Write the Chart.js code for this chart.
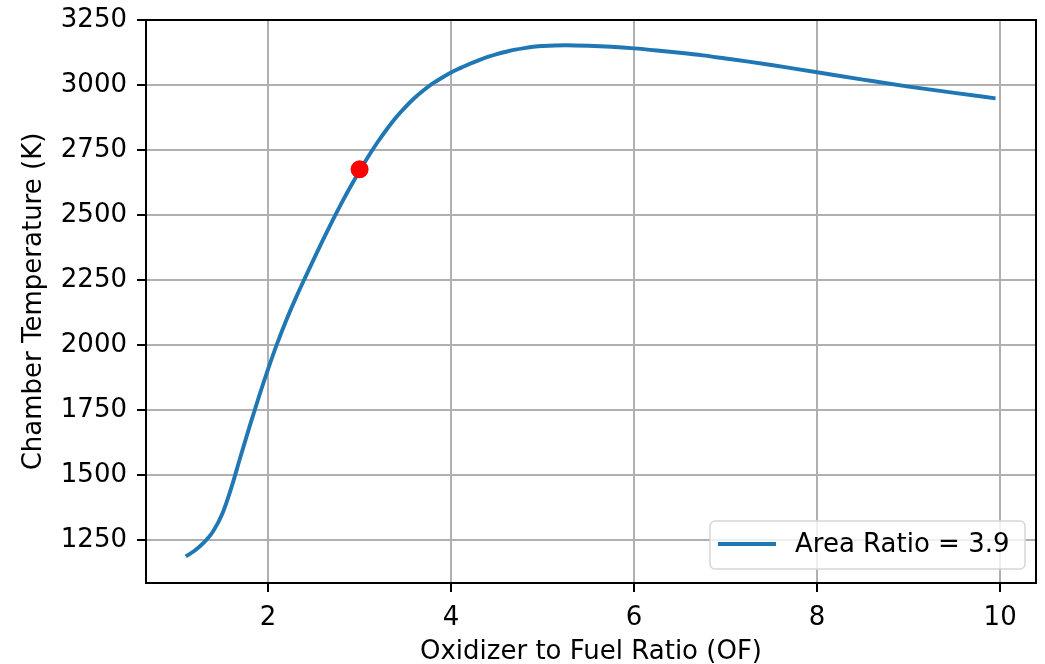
<!DOCTYPE html>
<html>
<head>
<meta charset="utf-8">
<script src="https://cdn.jsdelivr.net/npm/chart.js@4"></script>
<style>
  html, body { margin: 0; padding: 0; background: #fff; }
  #wrap { width: 1045px; height: 664px; position: relative; }
</style>
</head>
<body>
<div id="wrap"><canvas id="c" width="1045" height="664"></canvas></div>
<script>
// ---- data ----
const ofRatio = [1.1,1.2,1.3,1.4,1.5,1.6,1.7,1.8,1.9,2.0,2.1,2.2,2.3,2.4,2.5,2.6,2.7,2.8,2.9,3.0,3.1,3.2,3.3,3.4,3.5,3.6,3.7,3.8,3.9,4.0,4.1,4.2,4.3,4.4,4.5,4.6,4.7,4.8,4.9,5.0,5.25,5.5,5.75,6.0,6.25,6.5,6.75,7.0,7.25,7.5,7.75,8.0,8.5,9.0,9.5,9.95];
const chamberTemp = [1188,1211,1242,1285,1352,1454,1573,1690,1802,1908,2007,2097,2179,2256,2331,2405,2476,2544,2609,2670,2728,2782,2831,2876,2915,2950,2980,3006,3028,3048,3065,3081,3095,3108,3119,3128,3136,3142,3147,3150,3153,3151,3147,3141,3133,3124,3114,3102,3090,3077,3063,3049,3021,2994,2970,2949];
const markerOF = [3.0];
const markerTemp = [2676];
const xTicks = [2, 4, 6, 8, 10];
const yTicks = [1250, 1500, 1750, 2000, 2250, 2500, 2750, 3000, 3250];
const seriesLabel = 'Area Ratio = 3.9';
const xTitle = 'Oxidizer to Fuel Ratio (OF)';
const yTitle = 'Chamber Temperature (K)';

const FONT = 'DejaVu Sans';
const FS = 26;

const curvePts = ofRatio.map((x, i) => ({ x: x, y: chamberTemp[i] }));
const markPts = markerOF.map((x, i) => ({ x: x, y: markerTemp[i] }));

const framePlugin = {
  id: 'frame',
  afterDatasetsDraw(chart) {
    const { ctx, chartArea: a } = chart;
    ctx.save();
    ctx.strokeStyle = '#000';
    ctx.lineWidth = 2;
    ctx.strokeRect(a.left, a.top, a.right - a.left, a.bottom - a.top);
    ctx.restore();
  },
  afterDraw(chart) {
    // legend box inside the plot (lower right)
    const { ctx } = chart;
    const ds = chart.data.datasets[0];
    const x0 = 710, y0 = 521, w = 315, h = 48, r = 5;
    ctx.save();
    ctx.beginPath();
    ctx.moveTo(x0 + r, y0);
    ctx.arcTo(x0 + w, y0, x0 + w, y0 + h, r);
    ctx.arcTo(x0 + w, y0 + h, x0, y0 + h, r);
    ctx.arcTo(x0, y0 + h, x0, y0, r);
    ctx.arcTo(x0, y0, x0 + w, y0, r);
    ctx.closePath();
    ctx.fillStyle = 'rgba(255,255,255,0.8)';
    ctx.fill();
    ctx.strokeStyle = '#d6d6d6';
    ctx.lineWidth = 1.5;
    ctx.stroke();
    ctx.beginPath();
    ctx.moveTo(718, 544);
    ctx.lineTo(776, 544);
    ctx.strokeStyle = ds.borderColor;
    ctx.lineWidth = 3.9;
    ctx.stroke();
    ctx.fillStyle = '#000';
    ctx.font = FS + 'px "' + FONT + '"';
    ctx.textBaseline = 'middle';
    ctx.textAlign = 'left';
    ctx.fillText(ds.label, 795, 545);
    ctx.restore();
  }
};

new Chart(document.getElementById('c'), {
  type: 'scatter',
  data: {
    datasets: [
      {
        label: seriesLabel,
        data: curvePts,
        showLine: true,
        borderColor: '#1f77b4',
        backgroundColor: '#1f77b4',
        borderWidth: 3.9,
        pointRadius: 0,
        cubicInterpolationMode: 'monotone',
        order: 2
      },
      {
        label: 'point',
        data: markPts,
        showLine: false,
        pointRadius: 9,
        pointBackgroundColor: '#ff0000',
        pointBorderColor: '#ff0000',
        pointBorderWidth: 0,
        order: 1
      }
    ]
  },
  options: {
    responsive: false,
    animation: false,
    layout: { padding: { left: 0, top: 20, right: 6, bottom: 0 } },
    plugins: { legend: { display: false }, tooltip: { enabled: false } },
    scales: {
      x: {
        type: 'linear',
        min: 0.666,
        max: 10.392,
        afterBuildTicks(s) { s.ticks = xTicks.map(v => ({ value: v })); },
        afterFit(s) { s.height = 81; s.paddingLeft = 0; s.paddingRight = 0; },
        grid: { color: '#b0b0b0', lineWidth: 2, tickColor: '#000', tickLength: 9, tickWidth: 2 },
        border: { display: true, color: '#000', width: 2 },
        ticks: { color: '#000', padding: 11, font: { family: FONT, size: FS }, maxRotation: 0, autoSkip: false,
                 callback: v => String(v) },
        title: { display: true, text: xTitle, color: '#000', font: { family: FONT, size: FS }, padding: { top: 0, bottom: -4 } }
      },
      y: {
        type: 'linear',
        min: 1086,
        max: 3250,
        afterBuildTicks(s) { s.ticks = yTicks.map(v => ({ value: v })); },
        afterFit(s) { s.width = 146; s.paddingTop = 0; s.paddingBottom = 0; },
        grid: { color: '#b0b0b0', lineWidth: 2, tickColor: '#000', tickLength: 9, tickWidth: 2 },
        border: { display: true, color: '#000', width: 2 },
        ticks: { color: '#000', padding: 10, font: { family: FONT, size: FS }, autoSkip: false,
                 callback: v => String(v) },
        title: { display: true, text: yTitle, color: '#000', font: { family: FONT, size: FS }, padding: { top: 19, bottom: 0 } }
      }
    }
  },
  plugins: [framePlugin]
});
</script>
</body>
</html>
